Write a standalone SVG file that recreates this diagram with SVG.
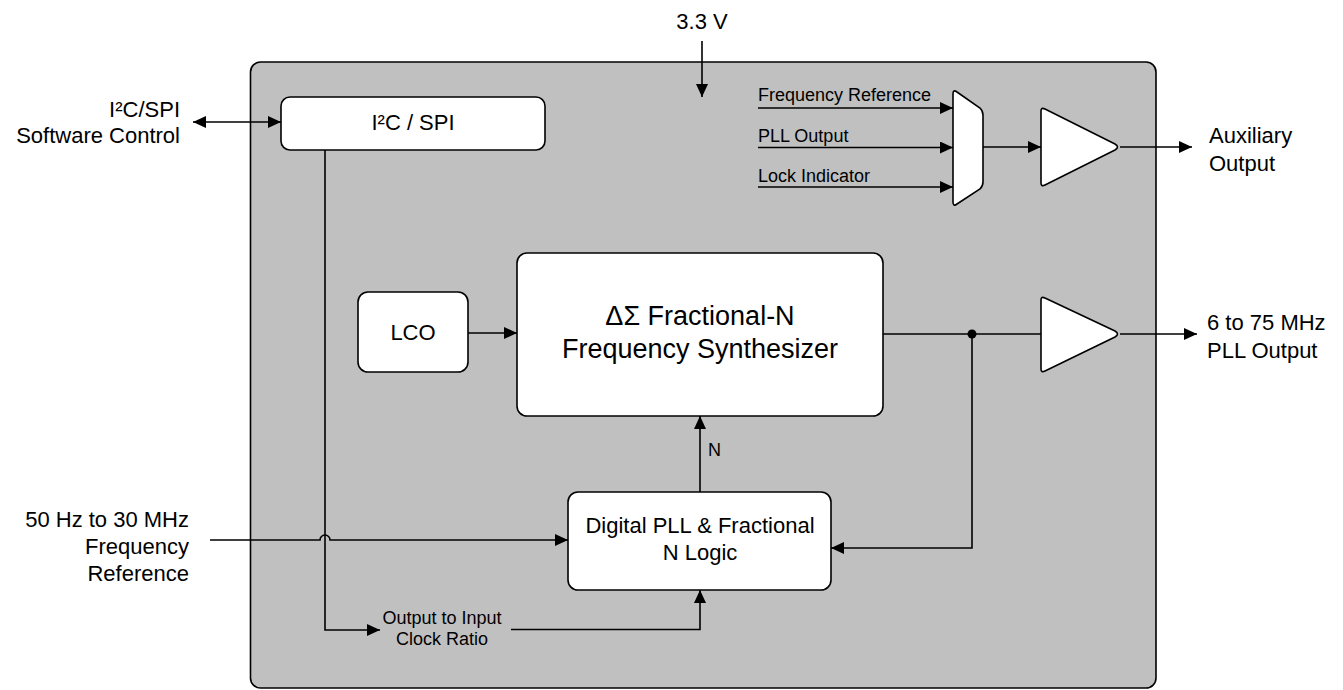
<svg xmlns="http://www.w3.org/2000/svg" width="1343" height="690" viewBox="0 0 1343 690">
<style>
text{font-family:"Liberation Sans",Arial,sans-serif;fill:#000}
.lbl{font-size:22px}
.big{font-size:27px}
.sm{font-size:18px}
.box{fill:#fff;stroke:#000;stroke-width:1.6}
.ln{fill:none;stroke:#000;stroke-width:1.6}
</style>
<defs>
<marker id="ah" markerUnits="userSpaceOnUse" markerWidth="13" markerHeight="12" refX="13" refY="6" orient="auto-start-reverse" viewBox="0 0 13 12">
<path d="M0,0 L13,6 L0,12 Z" fill="#000"/>
</marker>
</defs>
<g id="chip">
<rect x="250.5" y="62" width="905.5" height="626" rx="10" fill="#c0c0c0" stroke="#000" stroke-width="1.6"/>
</g>
<g id="i2c-spi">
<rect class="box" x="281" y="97" width="264" height="53" rx="9"/>
<text class="lbl" x="413" y="130" text-anchor="middle">I²C / SPI</text>
</g>
<g id="lco">
<rect class="box" x="358" y="292" width="110" height="80" rx="10"/>
<text class="lbl" x="413" y="340" text-anchor="middle">LCO</text>
</g>
<g id="synth">
<rect class="box" x="517" y="253" width="366" height="163" rx="10"/>
<text class="big" x="700" y="325" text-anchor="middle">ΔΣ Fractional-N</text>
<text class="big" x="700" y="358" text-anchor="middle">Frequency Synthesizer</text>
</g>
<g id="dpll">
<rect class="box" x="568" y="492" width="263" height="98" rx="10"/>
<text class="lbl" x="700" y="533" text-anchor="middle">Digital PLL &amp; Fractional</text>
<text class="lbl" x="700" y="560" text-anchor="middle">N Logic</text>
</g>
<g id="mux">
<path class="box" d="M953,94 Q953,89 957,92 L980,108 Q983,111 983,115 V182 Q983,186 980,189 L957,204 Q953,207 953,202 Z"/>
</g>
<g id="aux-buffer">
<path class="box" d="M1041,111 Q1041,107 1045,109 L1115,144 Q1120,147 1115,150 L1045,185 Q1041,187 1041,183 Z"/>
</g>
<g id="pll-buffer">
<path class="box" d="M1041,300 Q1041,296 1045,298 L1115,331 Q1120,334 1115,337 L1045,371 Q1041,373 1041,369 Z"/>
</g>
<g id="labels">
<text class="lbl" x="702" y="29" text-anchor="middle">3.3 V</text>
<text class="lbl" x="180" y="117" text-anchor="end">I²C/SPI</text>
<text class="lbl" x="180" y="143" text-anchor="end">Software Control</text>
<text class="lbl" x="189" y="527" text-anchor="end">50 Hz to 30 MHz</text>
<text class="lbl" x="189" y="554" text-anchor="end">Frequency</text>
<text class="lbl" x="189" y="581" text-anchor="end">Reference</text>
<text class="sm" x="442" y="624" text-anchor="middle">Output to Input</text>
<text class="sm" x="442" y="645" text-anchor="middle">Clock Ratio</text>
<text class="sm" x="708" y="456">N</text>
<text class="sm" x="758" y="101">Frequency Reference</text>
<text class="sm" x="758" y="142">PLL Output</text>
<text class="sm" x="758" y="182">Lock Indicator</text>
<text class="lbl" x="1209" y="143">Auxiliary</text>
<text class="lbl" x="1209" y="171">Output</text>
<text class="lbl" x="1207" y="330">6 to 75 MHz</text>
<text class="lbl" x="1207" y="358">PLL Output</text>
</g>
<g id="connectors">
<path class="ln" d="M702,41 V97" marker-end="url(#ah)"/>
<path class="ln" d="M193,122 H281" marker-start="url(#ah)" marker-end="url(#ah)"/>
<path class="ln" d="M325,150 V630 H380" marker-end="url(#ah)"/>
<path class="ln" d="M210,540 H320 A5,5 0 0 1 330,540 H568" marker-end="url(#ah)"/>
<path class="ln" d="M511,629.5 H700 V590" marker-end="url(#ah)"/>
<path class="ln" d="M700,492 V416" marker-end="url(#ah)"/>
<path class="ln" d="M468,333 H517" marker-end="url(#ah)"/>
<path class="ln" d="M883,334 H1041"/>
<path class="ln" d="M972,334 V548 H831" marker-end="url(#ah)"/>
<circle cx="972" cy="334" r="4.5" fill="#000"/>
<path class="ln" d="M1120,334 H1197" marker-end="url(#ah)"/>
<path class="ln" d="M758,108 H953" marker-end="url(#ah)"/>
<path class="ln" d="M758,147.5 H953" marker-end="url(#ah)"/>
<path class="ln" d="M758,187 H953" marker-end="url(#ah)"/>
<path class="ln" d="M983,147 H1041" marker-end="url(#ah)"/>
<path class="ln" d="M1120,147 H1192" marker-end="url(#ah)"/>
</g>
</svg>
